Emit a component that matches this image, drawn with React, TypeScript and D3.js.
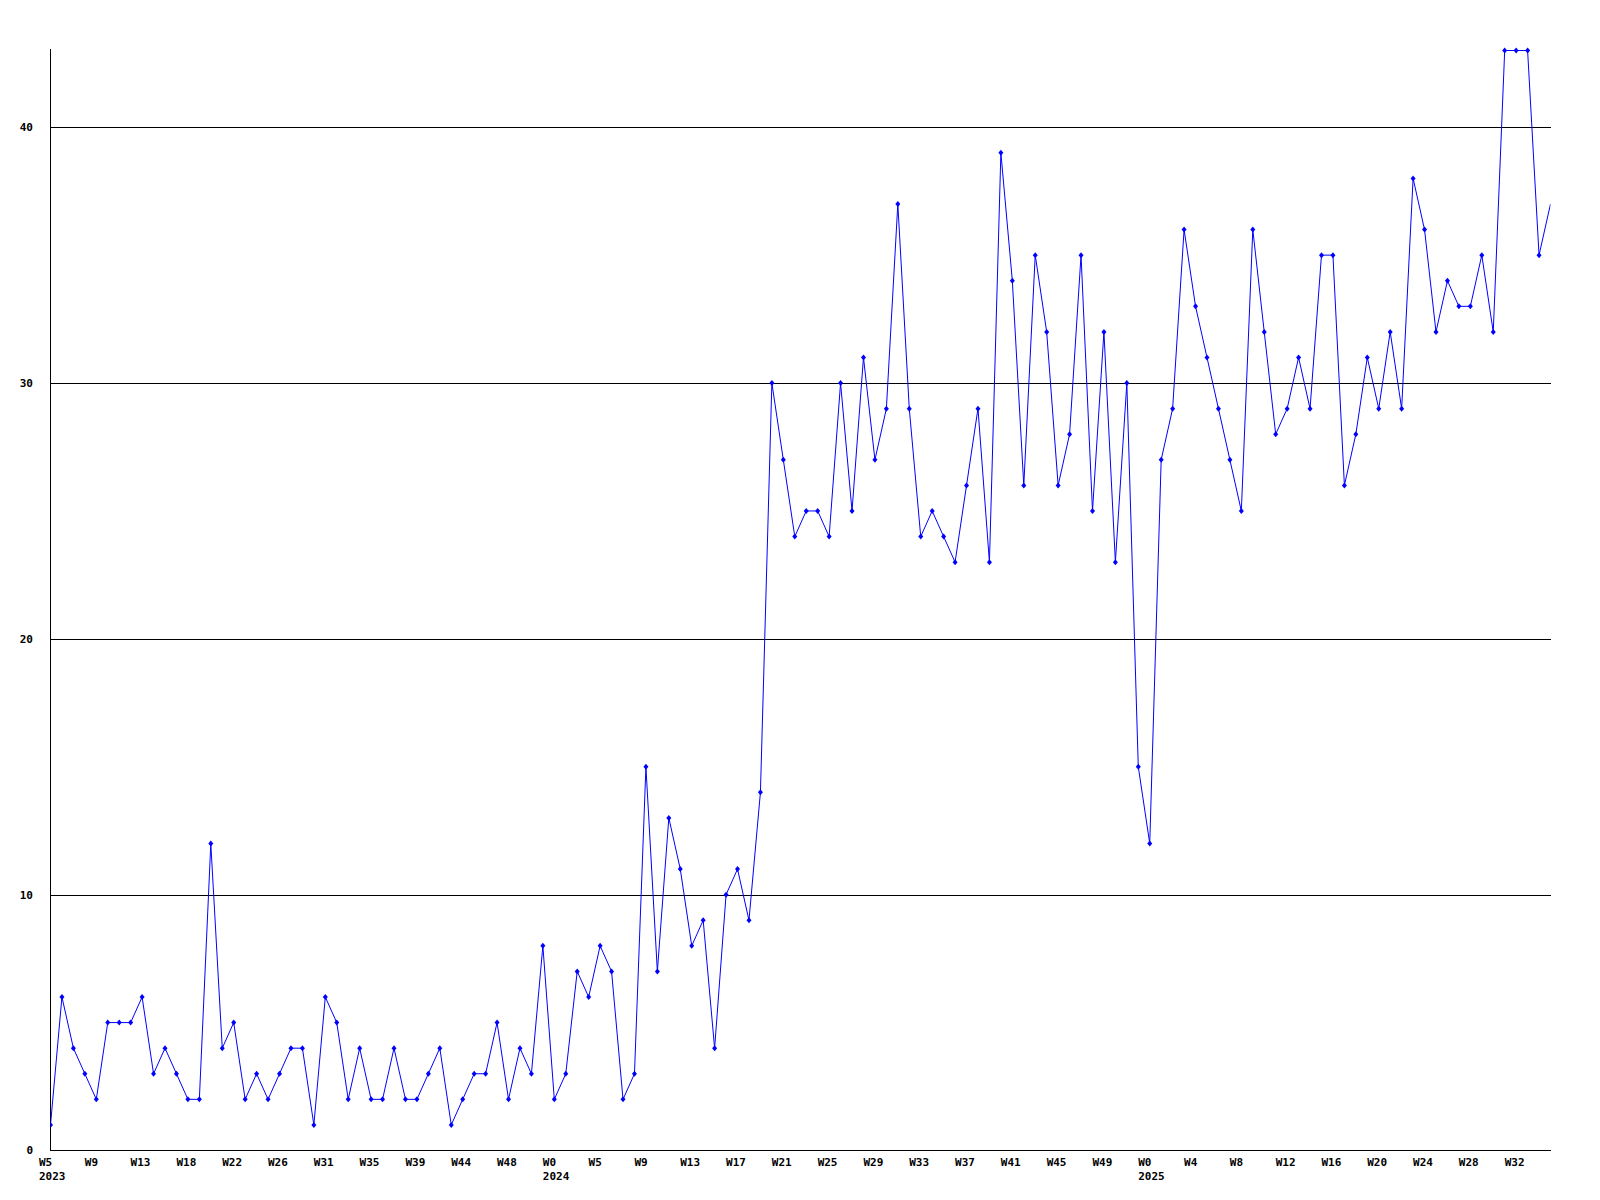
import * as d3 from "d3";
import React from "react";

// weekly counts, W5 2023 .. W35 2025
const values = [
  1, 6, 4, 3, 2, 5, 5, 5, 6, 3, 4, 3, 2, 2, 12, 4, 5, 2, 3, 2,
  3, 4, 4, 1, 6, 5, 2, 4, 2, 2, 4, 2, 2, 3, 4, 1, 2, 3, 3, 5,
  2, 4, 3, 8, 2, 3, 7, 6, 8, 7, 2, 3, 15, 7, 13, 11, 8, 9, 4, 10,
  11, 9, 14, 30, 27, 24, 25, 25, 24, 30, 25, 31, 27, 29, 37, 29, 24, 25, 24, 23,
  26, 29, 23, 39, 34, 26, 35, 32, 26, 28, 35, 25, 32, 23, 30, 15, 12, 27, 29, 36,
  33, 31, 29, 27, 25, 36, 32, 28, 29, 31, 29, 35, 35, 26, 28, 31, 29, 32, 29, 38,
  36, 32, 34, 33, 33, 35, 32, 43, 43, 43, 35, 37,
];

// labels shown every 4th point
const weekLabels = [
  "W5", "W9", "W13", "W18", "W22", "W26", "W31", "W35", "W39", "W44", "W48",
  "W0", "W5", "W9", "W13", "W17", "W21", "W25", "W29", "W33", "W37", "W41", "W45", "W49",
  "W0", "W4", "W8", "W12", "W16", "W20", "W24", "W28", "W32",
];
const labelStep = 4;

const yearLabels = [
  { index: 0, label: "2023" },
  { index: 44, label: "2024" },
  { index: 96, label: "2025" },
];

const yTicks = [0, 10, 20, 30, 40];

const W = 1600;
const H = 1200;
const left = 50.5;
const right = 1550.5;
const top = 50.5;
const bottom = 1150.5;

const font = "'DejaVu Sans Mono', monospace";

export default function App() {
  const x = d3.scaleLinear().domain([0, values.length - 1]).range([left, right]);
  const y = d3.scaleLinear().domain([0, 43]).range([bottom, top]);

  const line = d3
    .line<number>()
    .x((_, i) => x(i))
    .y((d) => y(d));

  const diamond = (cx: number, cy: number) =>
    `M${cx},${cy - 3}L${cx + 2.5},${cy}L${cx},${cy + 3}L${cx - 2.5},${cy}Z`;

  return (
    <svg
      width={W}
      height={H}
      style={{ position: "absolute", left: 0, top: 0, background: "#fff" }}
    >
      <defs>
        <clipPath id="plot">
          <rect x={left} y={0} width={right - left} height={bottom + 1} />
        </clipPath>
      </defs>

      {/* grid lines */}
      {yTicks.slice(1).map((t) => (
        <line
          key={t}
          x1={left}
          x2={right}
          y1={Math.round(y(t)) + 0.5}
          y2={Math.round(y(t)) + 0.5}
          stroke="#000"
          strokeWidth={1}
          shapeRendering="crispEdges"
        />
      ))}

      {/* axes */}
      <line x1={left} x2={left} y1={top - 2} y2={bottom} stroke="#000" shapeRendering="crispEdges" />
      <line x1={left} x2={right} y1={bottom} y2={bottom} stroke="#000" shapeRendering="crispEdges" />

      {yTicks.map((t) => (
        <text
          key={t}
          x={33}
          y={y(t)}
          dy="0.35em"
          textAnchor="end"
          fontFamily={font}
          fontWeight="bold"
          fontSize={11}
        >
          {t}
        </text>
      ))}

      {weekLabels.map((l, k) => (
        <text
          key={k}
          x={x(k * labelStep) - 11.5}
          y={1166}
          fontFamily={font}
          fontWeight="bold"
          fontSize={11}
        >
          {l}
        </text>
      ))}

      {yearLabels.map((d) => (
        <text
          key={d.label}
          x={x(d.index) - 11.5}
          y={1180}
          fontFamily={font}
          fontWeight="bold"
          fontSize={11}
        >
          {d.label}
        </text>
      ))}

      <g clipPath="url(#plot)">
        <path d={line(values) || ""} fill="none" stroke="#0000ff" strokeWidth={1} />
        {values.slice(0, -1).map((v, i) => (
          <path key={i} d={diamond(x(i), y(v))} fill="#0000ff" />
        ))}
      </g>
    </svg>
  );
}
